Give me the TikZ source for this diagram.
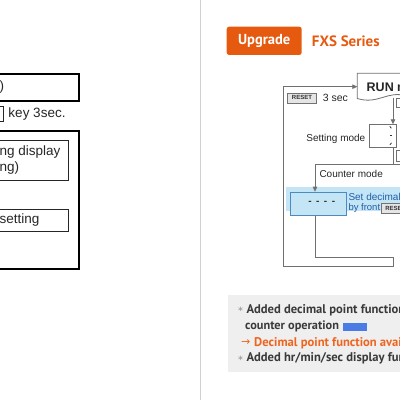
\documentclass[tikz,border=0pt]{standalone}
\usepackage{fontspec}
\setmainfont{Liberation Sans}
\newfontfamily\ptsans{PT Sans}
\newfontfamily\djv{DejaVu Sans}
\usetikzlibrary{arrows.meta}
\definecolor{upor}{HTML}{E65A10}
\definecolor{orgtxt}{HTML}{F0641E}
\definecolor{bandblue}{HTML}{C4E5F6}
\definecolor{decblue}{HTML}{4A8CC0}
\definecolor{txtblue}{HTML}{1F5FA6}
\definecolor{lngray}{HTML}{707070}
\definecolor{boxgray}{HTML}{EFEFEF}
\definecolor{btxt}{HTML}{3A3A3A}
\definecolor{barblue}{HTML}{4B7BE5}
\tikzset{
  lthick/.style={draw=black, line width=1.8pt},
  lthin/.style={draw=black!85, line width=0.9pt},
  ln/.style={draw=lngray, line width=0.8pt},
  tip/.style={-{Triangle[length=5pt,width=4.5pt]}},
  lefttxt/.style={anchor=west, inner sep=0pt, font=\fontsize{13.5}{14}\selectfont, text=black!85},
  dtxt/.style={anchor=west, inner sep=0pt, font=\fontsize{10}{11}\selectfont, text=black!85},
  resetkey/.style={draw=black!55, fill=black!10, line width=0.6pt, inner sep=0pt, minimum height=10pt, font=\bfseries\fontsize{6}{6}\selectfont, text=black!80},
  btext/.style={anchor=west, inner sep=0pt, font=\ptsans\bfseries\fontsize{12.6}{13}\selectfont, text=btxt},
  startxt/.style={inner sep=0pt, text=black!45, font=\djv\fontsize{10}{10}\selectfont},
}
\begin{document}
\begin{tikzpicture}[x=1pt,y=-1pt]
\useasboundingbox (0,0) rectangle (400,400);
\clip (0,0) rectangle (400,400);
% divider
\draw[black!18, line width=1pt] (200.5,0) -- (200.5,400);
% ---------- left part ----------
\draw[lthick] (-5,74) rectangle (78.7,100.7);
\node[lefttxt] (l1) at (-0.5,87.3) {)};
\draw[lthin] (-5,106.7) rectangle (3.3,121.7);
\node[lefttxt] (l2) at (8.3,114.3) {key 3sec.};
\draw[lthick] (-5,130.7) rectangle (79,269.3);
\draw[lthin] (-5,140) rectangle (68.3,180);
\node[lefttxt] (l3) at (-0.5,152) {ng display};
\node[lefttxt] (l4) at (-0.5,168) {ng)};
\draw[lthin] (-5,209) rectangle (68.3,231.7);
\node[lefttxt] (l5) at (-0.5,220.3) {setting};
% ---------- right part ----------
\node[fill=upor, rounded corners=2.5pt, minimum width=75pt, minimum height=28.3pt, inner sep=0pt,
      text=white, font=\ptsans\bfseries\fontsize{14.5}{15}\selectfont] (upg) at (264.2,40.8) {Upgrade};
\node[anchor=west, inner sep=0pt, text=upor, font=\ptsans\bfseries\fontsize{15}{16}\selectfont] (fxs) at (311.7,40.8) {FXS Series};
% RUN box (document shape)
\draw[ln, fill=white] (357.3,98.5) -- (357.3,73.3) -- (406,73.3) -- (406,96)
   .. controls (388,90) and (378,105) .. (357.3,98.5) -- cycle;
\coordinate (runW) at (357.3,86.7);
\coordinate (runS) at (393,97.5);
\node[anchor=west, inner sep=0pt, font=\bfseries\fontsize{12.5}{13}\selectfont, text=black!85] (run) at (366.5,87.3) {RUN mode};
% small cropped key boxes on the right
\draw[ln] (396,98.5) rectangle (406,107);
\draw[ln] (396,150) rectangle (406,161.5);
% setting mode box
\node[ln, fill=white, minimum width=27pt, minimum height=23pt, inner sep=0pt, anchor=north west] (setb) at (369,124.3) {};
\draw[ln, tip] (runS) -- (runS |- setb.north);
\draw[black!80, line width=0.8pt] (389.8,126.3) -- (391.3,128.3);
\draw[black!80, line width=0.8pt] (389.8,135.3) -- (392,135.3);
\draw[black!80, line width=0.8pt] (391.5,142.8) -- (390,144.8);
\node[dtxt, anchor=east] (setmode) at (365.5,139) {Setting mode};
% counter mode frame
\coordinate (cm) at (315,164);
\draw[ln] (393,147.3) -- (393,164);
\draw[ln] (406,164) -- (cm);
\node[dtxt] (cmtxt) at (319.3,173.5) {Counter mode};
% blue band and decimal box
\fill[bandblue] (286,187.3) rectangle (406,211);
\node[draw=decblue, line width=0.8pt, fill=bandblue, minimum width=56pt, minimum height=23.3pt, inner sep=0pt, anchor=north west] (dec) at (290,191.7) {};
\node[inner sep=0pt, font=\bfseries\fontsize{10}{10}\selectfont, text=black!80] (dash) at (321.7,202.5) {-\hspace{4.5pt}-\hspace{4.5pt}-\hspace{4.5pt}-};
\draw[ln, tip] (cm) -- (cm |- dec.north);
\node[dtxt, text=txtblue] (sd1) at (348.3,196.8) {Set decimal};
\node[dtxt, text=txtblue, font=\fontsize{9.5}{10}\selectfont] (sd2) at (348.3,208.5) {by front};
\node[resetkey, anchor=west, minimum width=28pt] (rk2) at (381,208.3) {RESET};
% loops
\coordinate (j1) at (393.3,257.3);
\coordinate (j2) at (393.3,266.7);
\coordinate (ol) at (283.3,266.7);
\draw[ln] (cm |- dec.south) -- (cm |- j1) -- (j1) -- (j2);
\draw[ln, tip] (j2) -- (ol) -- (ol |- runW) -- (runW);
\node[resetkey, minimum width=29.4pt] (rk1) at (302,97.8) {RESET};
\node[dtxt, font=\fontsize{10.5}{11}\selectfont] (sec3) at (322.7,98.3) {3 sec};
% ---------- bottom note box ----------
\fill[boxgray] (228.3,295) rectangle (406,372.3);
\node[startxt] (st1) at (240.5,311) {*};
\node[btext] (b1) at (246.3,310) {Added decimal point function};
\node[btext, font=\ptsans\bfseries\fontsize{12.3}{13}\selectfont] (b2) at (245,326.7) {counter operation};
\fill[barblue] (342.7,323.3) rectangle (366.7,331);
\node[anchor=west, inner sep=0pt, text=orgtxt, font=\djv\fontsize{11}{11}\selectfont] (arr) at (240.8,342.3) {→};
\node[btext, text=orgtxt] (b3) at (254,343.3) {Decimal point function available};
\node[startxt] (st2) at (240.5,359.3) {*};
\node[btext] (b4) at (246.3,358.3) {Added hr/min/sec display function};
\end{tikzpicture}
\end{document}
